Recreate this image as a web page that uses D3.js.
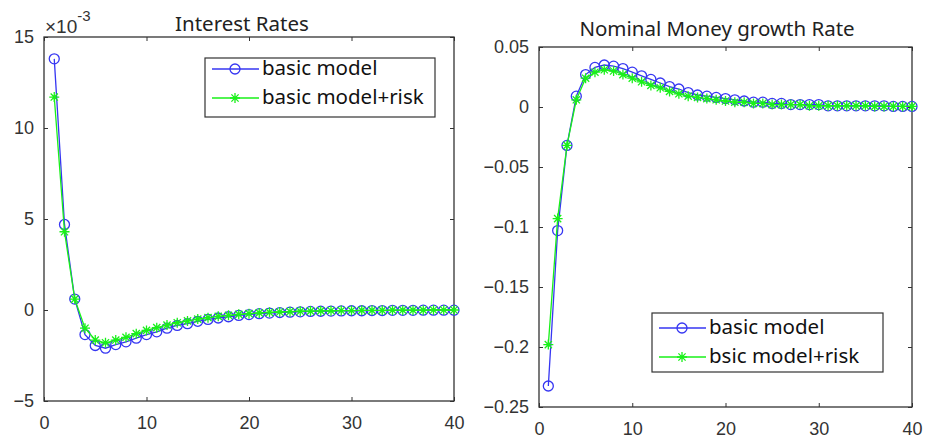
<!DOCTYPE html>
<html>
<head>
<meta charset="utf-8">
<script src="https://cdn.jsdelivr.net/npm/d3@7"></script>
<style>
  body { margin: 0; background: #fff; }
  svg { display: block; }
  .tick text { font-family: "Liberation Sans", Arial, sans-serif; font-size: 18px; fill: #333; }
  .title { font-family: "Noto Sans", "Open Sans", sans-serif; font-size: 20.5px; fill: #222; }
  .leg { font-family: "Noto Sans", "Open Sans", sans-serif; font-size: 20.5px; fill: #111; }
</style>
</head>
<body>
<div id="root"></div>
<script>
// periods 1..40
const periods = d3.range(1, 41);

// Interest Rates, units of 1e-3
const rateBasic = [13.8, 4.7, 0.6, -1.35, -1.95, -2.1, -1.9, -1.75, -1.55, -1.35,
  -1.2, -1.0, -0.85, -0.75, -0.62, -0.52, -0.44, -0.37, -0.3, -0.25,
  -0.2, -0.17, -0.14, -0.12, -0.1, -0.08, -0.07, -0.06, -0.05, -0.04,
  -0.04, -0.03, -0.03, -0.02, -0.02, -0.02, -0.01, -0.01, -0.01, -0.01];
const rateRisk = [11.7, 4.3, 0.6, -1.0, -1.65, -1.8, -1.65, -1.5, -1.3, -1.12,
  -0.97, -0.83, -0.7, -0.6, -0.5, -0.42, -0.35, -0.29, -0.24, -0.2,
  -0.16, -0.13, -0.11, -0.09, -0.07, -0.06, -0.05, -0.04, -0.03, -0.03,
  -0.02, -0.02, -0.02, -0.01, -0.01, -0.01, -0.01, 0, 0, 0];

// Nominal Money growth Rate
const moneyBasic = [-0.2325, -0.103, -0.032, 0.009, 0.027, 0.033, 0.035, 0.034, 0.032, 0.029,
  0.026, 0.023, 0.02, 0.017, 0.015, 0.012, 0.01, 0.009, 0.008, 0.007,
  0.006, 0.005, 0.004, 0.004, 0.003, 0.003, 0.002, 0.002, 0.002, 0.002,
  0.001, 0.001, 0.001, 0.001, 0.001, 0.001, 0.001, 0.0005, 0.0005, 0.0005];
const moneyRisk = [-0.198, -0.093, -0.032, 0.006, 0.024, 0.029, 0.031, 0.03, 0.027, 0.024,
  0.021, 0.018, 0.016, 0.013, 0.011, 0.009, 0.008, 0.007, 0.006, 0.005,
  0.004, 0.004, 0.003, 0.003, 0.002, 0.002, 0.002, 0.002, 0.001, 0.001,
  0.001, 0.001, 0.001, 0.001, 0.001, 0.0005, 0.0005, 0.0005, 0.0005, 0.0005];

const xTicks = [0, 10, 20, 30, 40];
const rateTicks = [-5, 0, 5, 10, 15];
const moneyTicks = [-0.25, -0.2, -0.15, -0.1, -0.05, 0, 0.05];

const blue = '#3636f2';
const green = '#19f019';

const svg = d3.select('#root').append('svg')
  .attr('width', 926)
  .attr('height', 439);

function panel(opt) {
  const x = d3.scaleLinear().domain([0, 40]).range([opt.left, opt.right]);
  const y = d3.scaleLinear().domain(opt.yDomain).range([opt.bottom, opt.top]);
  const g = svg.append('g');

  // axes with inward ticks
  g.append('g').attr('transform', `translate(0,${opt.bottom})`)
    .call(d3.axisBottom(x).tickValues(xTicks).tickSizeInner(-4).tickSizeOuter(0).tickPadding(15).tickFormat(d3.format('d')));
  g.append('g').attr('transform', `translate(0,${opt.top})`)
    .call(d3.axisTop(x).tickValues(xTicks).tickSizeInner(-4).tickSizeOuter(0).tickFormat(''));
  g.append('g').attr('transform', `translate(${opt.left},0)`)
    .call(d3.axisLeft(y).tickValues(opt.yTicks).tickSizeInner(-4).tickSizeOuter(0).tickPadding(10).tickFormat(opt.fmt));
  g.append('g').attr('transform', `translate(${opt.right},0)`)
    .call(d3.axisRight(y).tickValues(opt.yTicks).tickSizeInner(-4).tickSizeOuter(0).tickFormat(''));
  g.selectAll('.domain').remove();
  g.selectAll('.tick line').attr('stroke', '#333');

  g.append('rect')
    .attr('x', opt.left).attr('y', opt.top)
    .attr('width', opt.right - opt.left).attr('height', opt.bottom - opt.top)
    .attr('fill', 'none').attr('stroke', '#333').attr('stroke-width', 1.3);

  const line = d3.line().x((d, i) => x(periods[i])).y(d => y(d));

  // basic model: blue circles
  g.append('path').datum(opt.a).attr('d', line)
    .attr('fill', 'none').attr('stroke', blue).attr('stroke-width', 1.3);
  g.selectAll('circle.a').data(opt.a).join('circle').attr('class', 'a')
    .attr('cx', (d, i) => x(periods[i])).attr('cy', d => y(d)).attr('r', 5)
    .attr('fill', 'none').attr('stroke', blue).attr('stroke-width', 1.3);

  // + risk: green stars
  g.append('path').datum(opt.b).attr('d', line)
    .attr('fill', 'none').attr('stroke', green).attr('stroke-width', 1.3);
  g.selectAll('path.b').data(opt.b).join('path').attr('class', 'b')
    .attr('transform', (d, i) => `translate(${x(periods[i])},${y(d)})`)
    .attr('d', star(5))
    .attr('fill', 'none').attr('stroke', green).attr('stroke-width', 1.3);

  g.append('text').attr('class', 'title')
    .attr('x', opt.titleX).attr('y', opt.titleY)
    .attr('text-anchor', 'middle').text(opt.title);

  // legend
  const L = opt.legend;
  g.append('rect').attr('x', L.x).attr('y', L.y).attr('width', L.w).attr('height', L.h)
    .attr('fill', '#fff').attr('stroke', '#333').attr('stroke-width', 1.2);
  const items = [{ c: blue, t: L.labels[0], m: 'o' }, { c: green, t: L.labels[1], m: '*' }];
  items.forEach((it, k) => {
    const yy = L.y + L.row0 + k * L.dy;
    g.append('line').attr('x1', L.x + 7).attr('x2', L.x + 54).attr('y1', yy).attr('y2', yy)
      .attr('stroke', it.c).attr('stroke-width', 1.3);
    if (it.m === 'o') {
      g.append('circle').attr('cx', L.x + 30).attr('cy', yy).attr('r', 5)
        .attr('fill', 'none').attr('stroke', it.c).attr('stroke-width', 1.3);
    } else {
      g.append('path').attr('transform', `translate(${L.x + 30},${yy})`).attr('d', star(5))
        .attr('fill', 'none').attr('stroke', it.c).attr('stroke-width', 1.3);
    }
    g.append('text').attr('class', 'leg').attr('x', L.x + 57).attr('y', yy + 6).text(it.t);
  });
  return g;
}

function star(r) {
  const d = r * 0.72;
  return `M${-r},0L${r},0M0,${-r}L0,${r}M${-d},${-d}L${d},${d}M${-d},${d}L${d},${-d}`;
}

const left = panel({
  left: 44, right: 454, top: 37, bottom: 401,
  yDomain: [-5, 15], yTicks: rateTicks, fmt: d3.format('d'),
  a: rateBasic, b: rateRisk,
  title: 'Interest Rates', titleX: 242, titleY: 31,
  legend: { x: 205, y: 58, w: 230, h: 59, row0: 11, dy: 29, labels: ['basic model', 'basic model+risk'] }
});

// exponent label
const ex = left.append('text').attr('x', 45).attr('y', 33)
  .style('font-family', '"Liberation Sans", Arial, sans-serif').style('font-size', '19px').attr('fill', '#333');
ex.append('tspan').text('×10');
ex.append('tspan').attr('dy', -12).style('font-size', '15px').text('-3');

panel({
  left: 539, right: 912, top: 47, bottom: 407,
  yDomain: [-0.25, 0.05], yTicks: moneyTicks, fmt: d => (d === 0 ? '0' : d3.format('')(+d.toFixed(2))),
  a: moneyBasic, b: moneyRisk,
  title: 'Nominal Money growth Rate', titleX: 717, titleY: 36,
  legend: { x: 652, y: 313, w: 231, h: 59, row0: 15, dy: 29, labels: ['basic model', 'bsic model+risk'] }
});
</script>
</body>
</html>
